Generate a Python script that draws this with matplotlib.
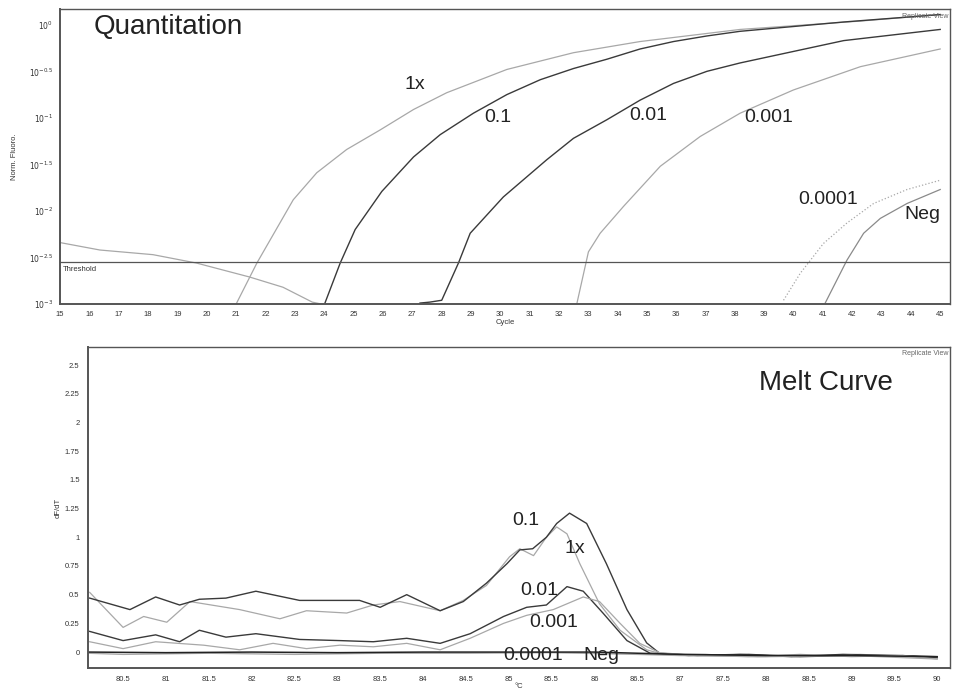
import numpy as np
import matplotlib.pyplot as plt

plt.rcParams['font.family'] = ['Liberation Sans', 'DejaVu Sans']

# --- Quantitation (cycle vs log10 norm. fluoro) ---
cyc_1x = [21.02, 21.71, 22.95, 23.75, 24.77, 25.91, 27.05, 28.18, 30.23, 32.5, 34.77,
          38.18, 42.28, 45.0]
log_1x = [-2.99, -2.56, -1.88, -1.59, -1.34, -1.13, -0.91, -0.73, -0.48, -0.30, -0.18,
          -0.05, 0.04, 0.11]

cyc_01 = [24.03, 24.55, 25.06, 25.97, 27.05, 27.96, 29.09, 30.23, 31.37, 32.5, 33.64,
          34.77, 35.91, 37.05, 38.18, 41.71, 45.0]
log_01 = [-2.99, -2.56, -2.2, -1.79, -1.42, -1.18, -0.95, -0.75, -0.59, -0.47, -0.37,
          -0.26, -0.18, -0.12, -0.07, 0.03, 0.11]

cyc_001 = [27.27, 27.6, 28.01, 28.58, 28.98, 30.11, 31.59, 32.5, 33.64, 34.77, 35.91,
           37.05, 38.18, 41.71, 45.0]
log_001 = [-2.99, -2.98, -2.96, -2.56, -2.24, -1.85, -1.45, -1.22, -1.02, -0.81, -0.63,
           -0.50, -0.41, -0.17, -0.05]

cyc_0001 = [32.62, 33.01, 33.41, 34.21, 35.46, 36.82, 38.18, 40.0, 42.28, 45.0]
log_0001 = [-2.99, -2.44, -2.24, -1.95, -1.52, -1.2, -0.95, -0.70, -0.45, -0.26]

cyc_00001 = [39.66, 40.23, 41.02, 41.82, 42.73, 43.87, 45.0]
log_00001 = [-2.96, -2.67, -2.35, -2.13, -1.92, -1.77, -1.67]

cyc_neg = [41.08, 41.82, 42.39, 42.96, 43.87, 45.0]
log_neg = [-2.99, -2.53, -2.24, -2.08, -1.92, -1.77]

cyc_drift = [15.0, 16.36, 18.17, 19.65, 21.46, 22.6, 23.6, 23.9]
log_drift = [-2.34, -2.42, -2.47, -2.56, -2.71, -2.82, -2.98, -3.0]

threshold_log = -2.55

q_ticks = [0, -0.5, -1, -1.5, -2, -2.5, -3]
q_ticklabels = [r'$10^{0}$', r'$10^{-0.5}$', r'$10^{-1}$', r'$10^{-1.5}$',
                r'$10^{-2}$', r'$10^{-2.5}$', r'$10^{-3}$']

# --- Melt curve (temperature vs dF/dT) ---
t_01 = [80.11, 80.58, 80.88, 81.16, 81.39, 81.7, 82.05, 82.56, 83.26, 83.5, 83.81, 84.2, 84.47,
        84.74, 84.98, 85.13, 85.28, 85.44, 85.56, 85.71, 85.91, 86.14, 86.38, 86.61, 86.76,
        87.2, 87.8, 88.4, 89.0, 89.6, 90.0]
d_01 = [0.47, 0.37, 0.48, 0.41, 0.46, 0.47, 0.53, 0.45, 0.45, 0.39, 0.50, 0.36, 0.44,
        0.60, 0.77, 0.89, 0.90, 1.00, 1.12, 1.21, 1.12, 0.77, 0.37, 0.08, -0.01,
        -0.03, -0.02, -0.04, -0.03, -0.03, -0.05]

t_1x = [80.11, 80.5, 80.74, 81.01, 81.28, 81.86, 82.33, 82.64, 83.11, 83.42, 83.73, 84.2, 84.47,
        84.74, 85.01, 85.13, 85.29, 85.44, 85.56, 85.68, 85.83, 86.06, 86.3, 86.61, 86.8,
        87.3, 87.9, 88.5, 89.1, 89.7, 90.0]
d_1x = [0.52, 0.215, 0.31, 0.26, 0.44, 0.37, 0.29, 0.36, 0.34, 0.41, 0.44, 0.36, 0.45,
        0.58, 0.83, 0.90, 0.84, 1.00, 1.09, 1.03, 0.77, 0.42, 0.19, 0.02, -0.02,
        -0.02, -0.04, -0.03, -0.02, -0.04, -0.05]

t_001 = [80.11, 80.5, 80.88, 81.16, 81.39, 81.7, 82.05, 82.56, 83.03, 83.42, 83.81, 84.2, 84.55,
         84.94, 85.21, 85.44, 85.68, 85.87, 86.1, 86.38, 86.65, 87.1, 87.7, 88.3, 88.9, 89.5, 90.0]
d_001 = [0.18, 0.10, 0.15, 0.09, 0.19, 0.13, 0.16, 0.11, 0.10, 0.09, 0.12, 0.076, 0.16,
         0.31, 0.39, 0.41, 0.57, 0.53, 0.34, 0.10, -0.01, -0.03, -0.02, -0.04, -0.02, -0.03, -0.04]

t_0001 = [80.11, 80.5, 80.88, 81.44, 81.86, 82.25, 82.64, 83.03, 83.42, 83.81, 84.2, 84.55,
          84.94, 85.21, 85.52, 85.87, 86.06, 86.3, 86.53, 86.76, 87.2, 87.8, 88.4, 89.0, 89.6, 90.0]
d_0001 = [0.09, 0.03, 0.09, 0.06, 0.02, 0.076, 0.03, 0.06, 0.046, 0.076, 0.02, 0.12,
          0.25, 0.32, 0.37, 0.48, 0.44, 0.25, 0.076, -0.005, -0.03, -0.04, -0.02, -0.04, -0.03, -0.06]

t_00001 = [80.1, 81.0, 82.0, 83.0, 84.0, 85.0, 86.0, 86.5, 87.0, 88.0, 89.0, 90.0]
d_00001 = [0.0, -0.005, 0.0, -0.005, 0.0, 0.0, 0.0, -0.01, -0.02, -0.03, -0.03, -0.04]

t_neg = [80.1, 80.5, 81.5, 82.5, 83.5, 84.5, 85.5, 86.5, 87.0, 88.0, 89.0, 90.0]
d_neg = [-0.01, -0.02, -0.01, -0.02, -0.01, -0.01, -0.005, -0.02, -0.03, -0.04, -0.03, -0.06]

m_yticks = [0, 0.25, 0.5, 0.75, 1, 1.25, 1.5, 1.75, 2, 2.25, 2.5]
m_xticks = [80.5, 81, 81.5, 82, 82.5, 83, 83.5, 84, 84.5, 85, 85.5, 86, 86.5,
            87, 87.5, 88, 88.5, 89, 89.5, 90]

DARK = '#3a3a3a'
LIGHT = '#a8a8a8'
MID = '#8a8a8a'

fig = plt.figure(figsize=(9.54, 6.95), dpi=100)

# top panel
ax1 = fig.add_axes([0.0629, 0.5626, 0.9331, 0.4245])
ax1.plot(cyc_drift, 10 ** np.array(log_drift), color=LIGHT, lw=0.9)
ax1.plot(cyc_1x, 10 ** np.array(log_1x), color=LIGHT, lw=0.9)
ax1.plot(cyc_01, 10 ** np.array(log_01), color=DARK, lw=1.0)
ax1.plot(cyc_001, 10 ** np.array(log_001), color=DARK, lw=1.0)
ax1.plot(cyc_0001, 10 ** np.array(log_0001), color=LIGHT, lw=0.9)
ax1.plot(cyc_00001, 10 ** np.array(log_00001), color=LIGHT, lw=0.9, ls=':')
ax1.plot(cyc_neg, 10 ** np.array(log_neg), color=MID, lw=0.9)
ax1.axhline(10 ** threshold_log, color='#555555', lw=0.9)
ax1.set_yscale('log')
ax1.set_xlim(15, 45.34)
ax1.set_ylim(10 ** -3, 10 ** 0.17)
ax1.set_xticks(range(15, 46))
ax1.set_yticks([10 ** v for v in q_ticks])
ax1.set_yticklabels(q_ticklabels)
ax1.minorticks_off()
ax1.tick_params(length=0, labelsize=5.5, pad=5, colors='#333333')
ax1.set_xlabel('Cycle', fontsize=5.5, labelpad=1, color='#333333')
ax1.set_ylabel('Norm. Fluoro.', fontsize=5.5, labelpad=8, color='#333333')

ax1.text(15.1, 10 ** -2.63, 'Threshold', fontsize=5.5, va='center', color='#333333')
ax1.text(16.13, 10 ** -0.02, 'Quantitation', fontsize=20, va='center', color='#222222')
ax1.text(27.1, 10 ** -0.645, '1x', fontsize=14, ha='center', va='center', color='#222222')
ax1.text(29.93, 10 ** -1.0, '0.1', fontsize=14, ha='center', va='center', color='#222222')
ax1.text(35.05, 10 ** -0.97, '0.01', fontsize=14, ha='center', va='center', color='#222222')
ax1.text(39.14, 10 ** -1.0, '0.001', fontsize=14, ha='center', va='center', color='#222222')
ax1.text(41.18, 10 ** -1.88, '0.0001', fontsize=14, ha='center', va='center', color='#222222')
ax1.text(44.39, 10 ** -2.04, 'Neg', fontsize=14, ha='center', va='center', color='#222222')
ax1.text(0.998, 0.985, 'Replicate View', transform=ax1.transAxes, fontsize=5,
         ha='right', va='top', color='#666666')

# bottom panel
ax2 = fig.add_axes([0.0922, 0.0388, 0.9036, 0.4619])
ax2.plot(t_1x, d_1x, color=LIGHT, lw=0.9)
ax2.plot(t_01, d_01, color=DARK, lw=1.0)
ax2.plot(t_001, d_001, color=DARK, lw=1.0)
ax2.plot(t_0001, d_0001, color=LIGHT, lw=0.9)
ax2.plot(t_neg, d_neg, color=LIGHT, lw=1.0)
ax2.plot(t_00001, d_00001, color='#222222', lw=1.1)
ax2.set_xlim(80.09, 90.15)
ax2.set_ylim(-0.139, 2.657)
ax2.set_xticks(m_xticks)
ax2.set_xticklabels([f'{v:g}' for v in m_xticks])
ax2.set_yticks(m_yticks)
ax2.set_yticklabels([f'{v:g}' for v in m_yticks])
ax2.tick_params(length=0, labelsize=5.5, pad=6, colors='#333333')
ax2.set_xlabel('°C', fontsize=5.5, labelpad=0, color='#333333')
ax2.set_ylabel('dF/dT', fontsize=5.5, labelpad=2, color='#333333')

ax2.text(88.7, 2.34, 'Melt Curve', fontsize=20, ha='center', va='center', color='#222222')
ax2.text(85.2, 1.15, '0.1', fontsize=14, ha='center', va='center', color='#222222')
ax2.text(85.77, 0.906, '1x', fontsize=14, ha='center', va='center', color='#222222')
ax2.text(85.36, 0.54, '0.01', fontsize=14, ha='center', va='center', color='#222222')
ax2.text(85.53, 0.26, '0.001', fontsize=14, ha='center', va='center', color='#222222')
ax2.text(85.29, -0.026, '0.0001', fontsize=14, ha='center', va='center', color='#222222')
ax2.text(86.08, -0.026, 'Neg', fontsize=14, ha='center', va='center', color='#222222')
ax2.text(0.998, 0.99, 'Replicate View', transform=ax2.transAxes, fontsize=5,
         ha='right', va='top', color='#666666')

for ax in (ax1, ax2):
    for sp in ax.spines.values():
        sp.set_color('#555555')
        sp.set_linewidth(1.0)
    ax.spines['left'].set_linewidth(1.4)
    ax.spines['bottom'].set_linewidth(1.4)

fig.savefig('out.png', dpi=100)
